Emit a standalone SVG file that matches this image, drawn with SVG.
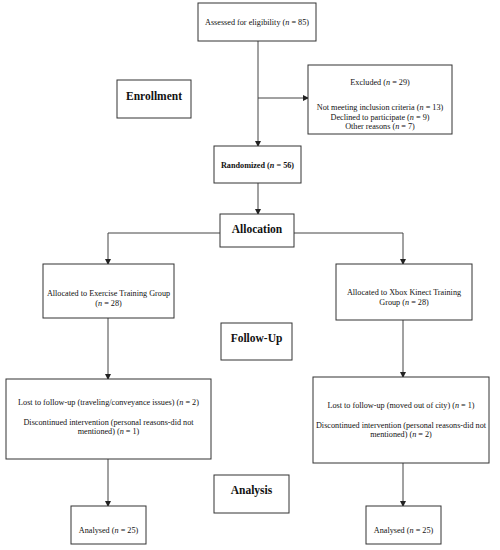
<svg xmlns="http://www.w3.org/2000/svg" width="500" height="550" viewBox="0 0 500 550">
<style>
.box{fill:#fff;stroke:#333;stroke-width:1}
.ln{fill:none;stroke:#444;stroke-width:1}
.t{font-family:"Liberation Serif","DejaVu Serif",serif;font-size:8.2px;fill:#111;text-anchor:middle}
.h{font-family:"Liberation Serif","DejaVu Serif",serif;font-weight:bold;font-size:11.5px;fill:#111;text-anchor:middle}
.b{font-family:"Liberation Serif","DejaVu Serif",serif;font-weight:bold;font-size:8.2px;fill:#111;text-anchor:middle}
</style>
<defs>
<marker id="ar" markerWidth="6" markerHeight="6" refX="5" refY="3" orient="auto" markerUnits="userSpaceOnUse">
<path d="M0,0 L6,3 L0,6 z" fill="#222"/>
</marker>
</defs>
<rect width="500" height="550" fill="#fff"/>
<g id="connectors">
<path class="ln" d="M258,41 V146" marker-end="url(#ar)"/>
<path class="ln" d="M258,98 H308" marker-end="url(#ar)"/>
<path class="ln" d="M258,183 V214" marker-end="url(#ar)"/>
<path class="ln" d="M220,233 H108 V264" marker-end="url(#ar)"/>
<path class="ln" d="M294,233 H403 V264" marker-end="url(#ar)"/>
<path class="ln" d="M108,318 V379" marker-end="url(#ar)"/>
<path class="ln" d="M403,320 V377" marker-end="url(#ar)"/>
<path class="ln" d="M108,459 V506" marker-end="url(#ar)"/>
<path class="ln" d="M403,463 V506" marker-end="url(#ar)"/>
</g>
<g id="assessed">
<rect class="box" x="198" y="3" width="118" height="38"/>
<text class="t" x="257" y="25">Assessed for eligibility (<tspan font-style="italic">n</tspan> = 85)</text>
</g>
<g id="excluded">
<rect class="box" x="308" y="65" width="144" height="69"/>
<text class="t" x="380" y="85">Excluded (<tspan font-style="italic">n</tspan> = 29)</text>
<text class="t" x="380" y="110">Not meeting inclusion criteria (<tspan font-style="italic">n</tspan> = 13)</text>
<text class="t" x="380" y="119.5">Declined to participate (<tspan font-style="italic">n</tspan> = 9)</text>
<text class="t" x="380" y="129">Other reasons (<tspan font-style="italic">n</tspan> = 7)</text>
</g>
<g id="enrollment">
<rect class="box" x="117" y="80" width="74" height="38"/>
<text class="h" x="154" y="100">Enrollment</text>
</g>
<g id="randomized">
<rect class="box" x="214" y="146" width="87" height="37"/>
<text class="b" x="257.5" y="168">Randomized (<tspan font-style="italic">n</tspan> = 56)</text>
</g>
<g id="allocation">
<rect class="box" x="220" y="214" width="74" height="33"/>
<text class="h" x="257" y="233">Allocation</text>
</g>
<g id="alloc-left">
<rect class="box" x="43" y="264" width="131" height="54"/>
<text class="t" x="108.5" y="296">Allocated to Exercise Training Group</text>
<text class="t" x="108.5" y="306">(<tspan font-style="italic">n</tspan> = 28)</text>
</g>
<g id="alloc-right">
<rect class="box" x="336" y="264" width="136" height="56"/>
<text class="t" x="404" y="295">Allocated to Xbox Kinect Training</text>
<text class="t" x="404" y="305">Group (<tspan font-style="italic">n</tspan> = 28)</text>
</g>
<g id="followup">
<rect class="box" x="221" y="323" width="71" height="37"/>
<text class="h" x="256.5" y="342">Follow-Up</text>
</g>
<g id="lost-left">
<rect class="box" x="6" y="379" width="205" height="80"/>
<text class="t" x="108.5" y="405">Lost to follow-up (traveling/conveyance issues) (<tspan font-style="italic">n</tspan> = 2)</text>
<text class="t" x="108.5" y="425">Discontinued intervention (personal reasons-did not</text>
<text class="t" x="108.5" y="434">mentioned) (<tspan font-style="italic">n</tspan> = 1)</text>
</g>
<g id="lost-right">
<rect class="box" x="313" y="377" width="176" height="86"/>
<text class="t" x="401" y="408">Lost to follow-up (moved out of city) (<tspan font-style="italic">n</tspan> = 1)</text>
<text class="t" x="401" y="428">Discontinued intervention (personal reasons-did not</text>
<text class="t" x="401" y="437">mentioned) (<tspan font-style="italic">n</tspan> = 2)</text>
</g>
<g id="analysis">
<rect class="box" x="214" y="475" width="75" height="38"/>
<text class="h" x="251.5" y="494">Analysis</text>
</g>
<g id="analysed-left">
<rect class="box" x="71" y="506" width="75" height="38"/>
<text class="t" x="108.5" y="533">Analysed (<tspan font-style="italic">n</tspan> = 25)</text>
</g>
<g id="analysed-right">
<rect class="box" x="366" y="506" width="75" height="38"/>
<text class="t" x="403.5" y="533">Analysed (<tspan font-style="italic">n</tspan> = 25)</text>
</g>
</svg>
